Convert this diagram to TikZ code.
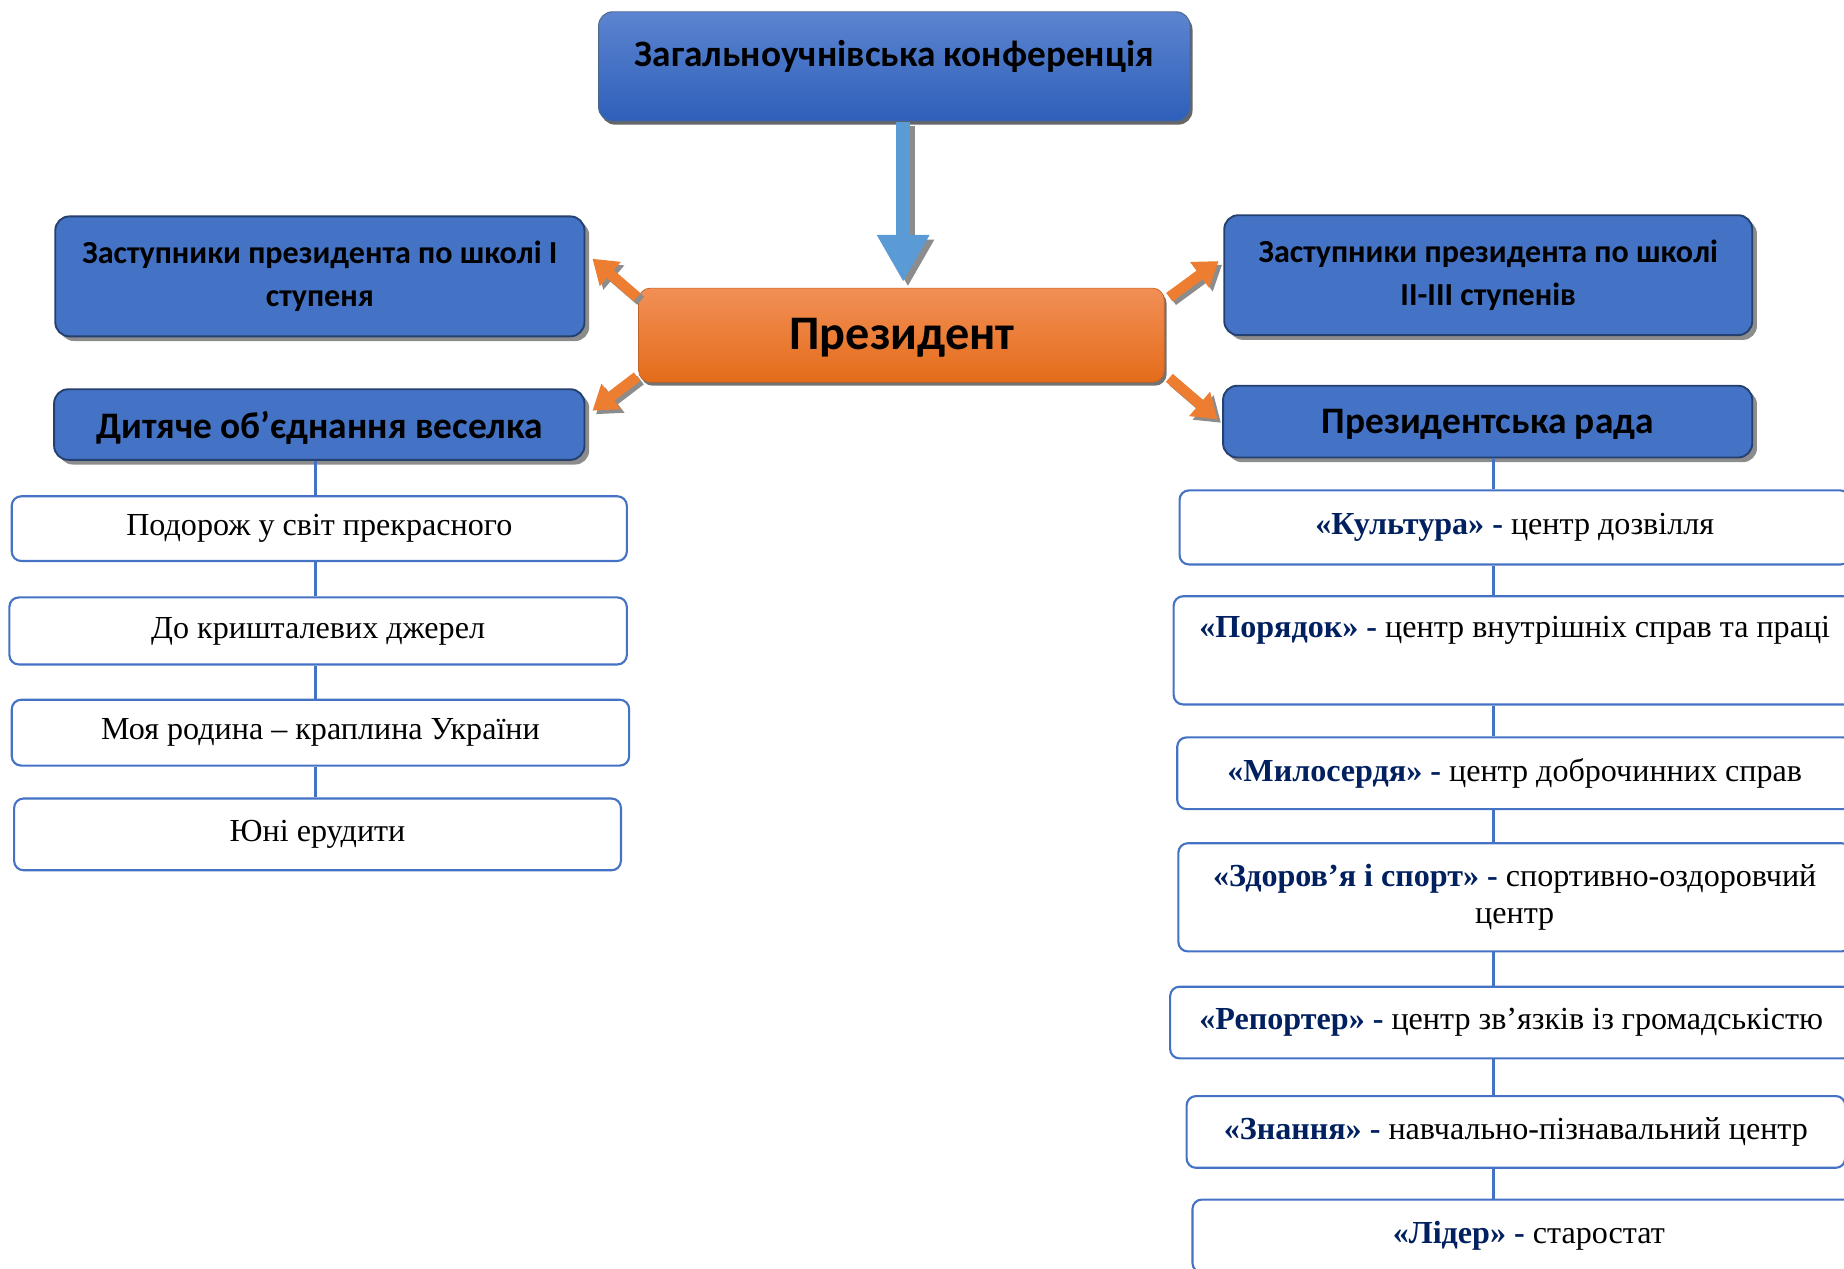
\documentclass[tikz,border=0pt]{standalone}
\usepackage{fontspec}
\setmainfont{Liberation Serif}
\newfontfamily\calib{Carlito}
\usetikzlibrary{arrows.meta,shadows}
\definecolor{bl}{HTML}{4472C4}
\definecolor{bdr}{HTML}{24406E}
\definecolor{navy}{HTML}{002060}
\definecolor{orng}{HTML}{ED7D31}
\definecolor{arrblue}{HTML}{5B9BD5}
\definecolor{shd}{HTML}{8C8C8C}
\tikzset{
  bluebox/.style={draw=bdr, line width=1.6pt, fill=bl, rounded corners=12pt, align=center,
    text=black, inner sep=0pt, drop shadow={shadow xshift=4pt, shadow yshift=-4pt, fill=shd, opacity=1}},
  listbox/.style={draw=bl, line width=1.8pt, fill=white, rounded corners=8pt, align=center,
    inner sep=0pt, font=\fontsize{27.3}{31}\selectfont},
  conn/.style={draw=bl, line width=2.5pt},
  orarrow/.style={draw=orng, line width=9pt, -{Triangle[length=20pt,width=26pt,fill=orng]}},
  orshadow/.style={draw=shd, line width=9pt, -{Triangle[length=20pt,width=26pt,fill=shd]},
    transform canvas={shift={(3pt,-3pt)}}}
}
\newcommand{\bn}[1]{{\color{navy}\bfseries #1}}
\begin{document}
\begin{tikzpicture}[x=1pt,y=-1pt]
\useasboundingbox (0,0) rectangle (1568,1079);
\clip (0,0) rectangle (1568,1079);

% top box
\node[draw=bdr!80, line width=0.8pt, rounded corners=12pt, top color={rgb,255:red,92;green,132;blue,208},
  bottom color={rgb,255:red,46;green,96;blue,186}, minimum width=503pt, minimum height=93pt,
  drop shadow={shadow xshift=2pt, shadow yshift=-3pt, fill=black!60, opacity=1},
  label={[font=\calib\bfseries\fontsize{31.7}{36}\selectfont, yshift=8.5pt]center:Загальноучнівська конференція}]
  (top) at (760.5,56.5) {};

% president
\node[draw=orng!80!black, line width=0.6pt, rounded corners=10pt, top color={rgb,255:red,242;green,143;blue,86},
  bottom color={rgb,255:red,228;green,108;blue,26}, minimum width=447pt, minimum height=80pt,
  drop shadow={shadow xshift=2pt, shadow yshift=-3pt, fill=black!55, opacity=1}] (pres) at (766.5,285) {};
\node[font=\calib\bfseries\fontsize{41}{48}\selectfont, inner sep=0pt] (prest) at (767,287) {Президент};

% blue side boxes
\node[bluebox, minimum width=450pt, minimum height=102pt, font=\calib\bfseries\fontsize{27.3}{36}\selectfont]
  (zl1) at (272,235) {Заступники президента по школі І\\ступеня};
\node[bluebox, minimum width=451pt, minimum height=60pt,
  label={[font=\calib\bfseries\fontsize{31.8}{36}\selectfont, yshift=-3pt]center:Дитяче об’єднання веселка}]
  (zl2) at (271.5,361) {};
\node[bluebox, minimum width=449pt, minimum height=102pt, font=\calib\bfseries\fontsize{27.3}{36}\selectfont]
  (zr1) at (1265.5,234) {Заступники президента по школі\\ІІ-ІІІ ступенів};
\node[bluebox, minimum width=450pt, minimum height=61pt,
  label={[font=\calib\bfseries\fontsize{31.8}{36}\selectfont, yshift=-2pt]center:Президентська рада}]
  (zr2) at (1265,358.5) {};

% blue arrow
\draw[draw=shd, line width=12pt, -{Triangle[length=40pt,width=42pt,fill=shd]},
  transform canvas={shift={(4pt,-4pt)}}] ([xshift=7.5pt]top.south) -- ([xshift=1.5pt,yshift=5pt]pres.north);
\draw[draw=arrblue, line width=12pt, -{Triangle[length=40pt,width=42pt,fill=arrblue]}]
  ([xshift=7.5pt]top.south) -- ([xshift=1.5pt,yshift=5pt]pres.north);

% orange arrows
\draw[orshadow] ([shift={(-1,8)}]pres.north west) -- ([shift={(6,-15)}]zl1.east);
\draw[orshadow] ([shift={(-1,-5)}]pres.south west) -- ([shift={(6,19)}]zl2.north east);
\draw[orshadow] ([shift={(4,8)}]pres.north east) -- ([shift={(-4,-12)}]zr1.west);
\draw[orshadow] ([shift={(4,-4)}]pres.south east) -- ([shift={(-4,-2)}]zr2.west);
\draw[orarrow] ([shift={(-1,8)}]pres.north west) -- ([shift={(6,-15)}]zl1.east);
\draw[orarrow] ([shift={(-1,-5)}]pres.south west) -- ([shift={(6,19)}]zl2.north east);
\draw[orarrow] ([shift={(4,8)}]pres.north east) -- ([shift={(-4,-12)}]zr1.west);
\draw[orarrow] ([shift={(4,-4)}]pres.south east) -- ([shift={(-4,-2)}]zr2.west);

% left list
\node[listbox, minimum width=523pt, minimum height=55pt] (l1) at (271.5,449.5) {Подорож у світ прекрасного};
\node[listbox, minimum width=525pt, minimum height=57pt] (l2) at (270.5,536.5) {До кришталевих джерел};
\node[listbox, minimum width=525pt, minimum height=56pt] (l3) at (272.5,623) {Моя родина – краплина України};
\node[listbox, minimum width=516pt, minimum height=61pt] (l4) at (270,709.5) {Юні ерудити};
\draw[conn] (zl2.south -| 268,0) -- (l1.north -| 268,0);
\draw[conn] (l1.south -| 268,0) -- (l2.north -| 268,0);
\draw[conn] (l2.south -| 268,0) -- (l3.north -| 268,0);
\draw[conn] (l3.south -| 268,0) -- (l4.north -| 268,0);

% right list
\node[listbox, minimum width=570pt, minimum height=63pt] (r1) at (1288,448.5) {\bn{«Культура» -} центр дозвілля};
\node[listbox, minimum width=580pt, minimum height=92pt,
  label={[font=\fontsize{27.3}{31}\selectfont, yshift=17pt]center:\bn{«Порядок» -} центр внутрішніх справ та праці}]
  (r2) at (1288,553) {};
\node[listbox, minimum width=574pt, minimum height=61pt] (r3) at (1288,657.5) {\bn{«Милосердя» -} центр доброчинних справ};
\node[listbox, minimum width=572pt, minimum height=92pt] (r4) at (1288,763) {\bn{«Здоров’я і спорт» -} спортивно-оздоровчий\\центр};
\node[listbox, minimum width=580pt, minimum height=61pt] (r5) at (1285,869.5) {\bn{«Репортер» -} центр зв’язків із громадськістю};
\node[listbox, minimum width=560pt, minimum height=61pt] (r6) at (1289,962.5) {\bn{«Знання» -} навчально-пізнавальний центр};
\node[listbox, minimum width=572pt, minimum height=62pt] (r7) at (1300,1051) {\bn{«Лідер» -} старостат};
\draw[conn] (zr2.south -| 1270,0) -- (r1.north -| 1270,0);
\draw[conn] (r1.south -| 1270,0) -- (r2.north -| 1270,0);
\draw[conn] (r2.south -| 1270,0) -- (r3.north -| 1270,0);
\draw[conn] (r3.south -| 1270,0) -- (r4.north -| 1270,0);
\draw[conn] (r4.south -| 1270,0) -- (r5.north -| 1270,0);
\draw[conn] (r5.south -| 1270,0) -- (r6.north -| 1270,0);
\draw[conn] (r6.south -| 1270,0) -- (r7.north -| 1270,0);
\end{tikzpicture}
\end{document}
